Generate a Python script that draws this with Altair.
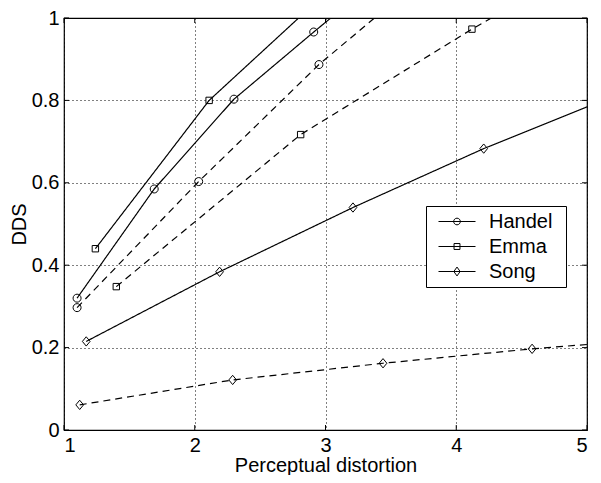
import altair as alt
import pandas as pd

# ---- data ----
songs = ["Handel", "Emma", "Song"]

handel_solid_x = [1.10, 1.69, 2.30, 2.91, 3.50]
handel_solid_y = [0.320, 0.585, 0.803, 0.966, 1.120]
handel_dash_x = [1.10, 2.03, 2.95, 3.60]
handel_dash_y = [0.297, 0.603, 0.887, 1.060]

emma_solid_x = [1.24, 2.11, 3.00]
emma_solid_y = [0.440, 0.800, 1.060]
emma_dash_x = [1.40, 2.81, 4.12, 4.60]
emma_dash_y = [0.348, 0.717, 0.973, 1.060]

song_solid_x = [1.17, 2.19, 3.21, 4.21, 5.20]
song_solid_y = [0.215, 0.384, 0.540, 0.683, 0.810]
song_dash_x = [1.12, 2.29, 3.44, 4.58, 5.70]
song_dash_y = [0.061, 0.1215, 0.162, 0.197, 0.225]

x_ticks = [1, 2, 3, 4, 5]
y_ticks = [0, 0.2, 0.4, 0.6, 0.8, 1.0]

series = [
    ("Handel", "solid", handel_solid_x, handel_solid_y),
    ("Handel", "dashed", handel_dash_x, handel_dash_y),
    ("Emma", "solid", emma_solid_x, emma_solid_y),
    ("Emma", "dashed", emma_dash_x, emma_dash_y),
    ("Song", "solid", song_solid_x, song_solid_y),
    ("Song", "dashed", song_dash_x, song_dash_y),
]
rows = []
for name, style, xs, ys in series:
    for i, (xv, yv) in enumerate(zip(xs, ys)):
        rows.append({"song": name, "style": style, "line": name + "-" + style,
                     "x": xv, "y": yv, "order": i})
df = pd.DataFrame(rows)

FONT = "Liberation Sans"
W, H = 523, 412

xsc = alt.Scale(domain=[1, 5], nice=False)
ysc = alt.Scale(domain=[0, 1], nice=False)

marker_paths = [
    "M-0.8,0A0.8,0.8 0 1,0 0.8,0A0.8,0.8 0 1,0 -0.8,0Z",
    "M-0.64,-0.64L0.64,-0.64L0.64,0.64L-0.64,0.64Z",
    "M0,-0.93L0.77,0L0,0.93L-0.77,0Z",
]
legend_paths = [
    "M-1,0L1,0M-0.18,0A0.18,0.18 0 1,0 0.18,0A0.18,0.18 0 1,0 -0.18,0Z",
    "M-1,0L1,0M-0.16,-0.16L0.16,-0.16L0.16,0.16L-0.16,0.16Z",
    "M-1,0L1,0M0,-0.24L0.17,0L0,0.24L-0.17,0Z",
]

x_axis = alt.Axis(values=x_ticks, title="Perceptual distortion", format="~g",
                  grid=True, ticks=False, tickSize=0, domain=False,
                  labelPadding=5, titlePadding=0)
y_axis = alt.Axis(values=y_ticks, title="DDS", format="~g",
                  grid=True, ticks=False, tickSize=0, domain=False,
                  labelPadding=5, titlePadding=2)

base = alt.Chart(df)

lines = base.mark_line(clip=True, color="black", strokeWidth=1.2).encode(
    x=alt.X("x:Q", scale=xsc, axis=x_axis),
    y=alt.Y("y:Q", scale=ysc, axis=y_axis),
    detail="line:N",
    order="order:Q",
    strokeDash=alt.StrokeDash("style:N",
                              scale=alt.Scale(domain=["solid", "dashed"],
                                              range=[[1, 0], [7, 5]]),
                              legend=None),
)

points = base.mark_point(clip=True, filled=False, color="black",
                         size=100, strokeWidth=1, opacity=1).encode(
    x=alt.X("x:Q", scale=xsc),
    y=alt.Y("y:Q", scale=ysc),
    shape=alt.Shape("song:N", scale=alt.Scale(domain=songs, range=marker_paths),
                    legend=None),
)

legend_carrier = base.transform_filter(
    (alt.datum.y > 1) | (alt.datum.x > 5)
).mark_point(clip=True, filled=False, color="black", strokeWidth=1, opacity=1).encode(
    x=alt.X("x:Q", scale=xsc),
    y=alt.Y("y:Q", scale=ysc),
    shape=alt.Shape("song:N", scale=alt.Scale(domain=songs, range=legend_paths),
                    legend=alt.Legend(title="\u00a0", titleOrient="right",
                                      titlePadding=11, titleFontSize=20,
                                      titleFont=FONT,
                                      orient="none",
                                      legendX=362, legendY=188,
                                      strokeColor="black", fillColor="white",
                                      padding=3, symbolSize=1369, clipHeight=25,
                                      rowPadding=0, symbolOffset=9, labelOffset=13,
                                      symbolStrokeColor="black",
                                      symbolStrokeWidth=1,
                                      labelFont=FONT, labelFontSize=20,
                                      labelColor="black")),
)

ytick_df = pd.DataFrame({"v": y_ticks})
xtick_df = pd.DataFrame({"v": x_ticks})

ytl = alt.Chart(ytick_df).mark_rule(color="black", strokeWidth=1).encode(
    y=alt.Y("v:Q", scale=ysc), x=alt.value(0), x2=alt.value(5))
ytr = alt.Chart(ytick_df).mark_rule(color="black", strokeWidth=1).encode(
    y=alt.Y("v:Q", scale=ysc), x=alt.value(W - 5), x2=alt.value(W))
xtb = alt.Chart(xtick_df).mark_rule(color="black", strokeWidth=1).encode(
    x=alt.X("v:Q", scale=xsc), y=alt.value(H), y2=alt.value(H - 5))
xtt = alt.Chart(xtick_df).mark_rule(color="black", strokeWidth=1).encode(
    x=alt.X("v:Q", scale=xsc), y=alt.value(0), y2=alt.value(5))

chart = alt.layer(lines, points, legend_carrier, ytl, ytr, xtb, xtt).resolve_scale(
    shape="independent"
).properties(
    width=W, height=H,
    autosize=alt.AutoSizeParams(type="none"),
    padding={"left": 56, "top": 10, "right": 6, "bottom": 45},
    background="white",
).configure_view(
    stroke="black", strokeWidth=1.2
).configure_axis(
    labelFont=FONT, labelFontSize=20, labelColor="black",
    titleFont=FONT, titleFontSize=20, titleColor="black", titleFontWeight="normal",
    gridColor="black", gridOpacity=1, gridDash=[1, 3], gridWidth=1,
)

chart.save("out.html", embed_options={"renderer": "svg", "actions": False})
